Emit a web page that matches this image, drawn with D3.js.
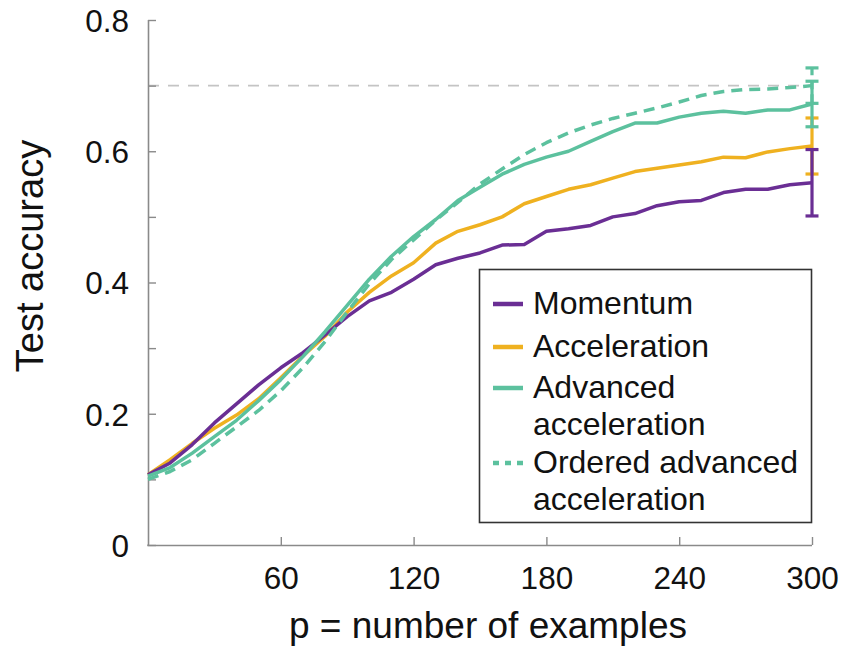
<!DOCTYPE html>
<html>
<head>
<meta charset="utf-8">
<script src="https://cdn.jsdelivr.net/npm/d3@7"></script>
<style>
  html, body { margin: 0; padding: 0; background: #fff; }
  svg { display: block; }
  text { font-family: "Liberation Sans", Arial, Helvetica, sans-serif; fill: #111; }
</style>
</head>
<body>
<svg id="chart" width="844" height="649"></svg>
<script>
// ---- data ----
const xValues = [0,10,20,30,40,50,60,70,80,90,100,110,120,130,140,150,160,170,180,190,200,210,220,230,240,250,260,270,280,290,300];
const momentum = [0.107,0.125,0.153,0.186,0.215,0.244,0.27,0.293,0.32,0.348,0.372,0.385,0.405,0.427,0.437,0.445,0.457,0.458,0.478,0.482,0.487,0.50,0.505,0.517,0.523,0.525,0.537,0.542,0.542,0.549,0.552];
const acceleration = [0.107,0.13,0.155,0.178,0.198,0.223,0.255,0.288,0.318,0.355,0.385,0.41,0.43,0.46,0.478,0.488,0.5,0.52,0.531,0.542,0.549,0.559,0.569,0.574,0.579,0.584,0.591,0.590,0.599,0.604,0.608];
const advanced = [0.105,0.118,0.14,0.165,0.19,0.22,0.252,0.287,0.325,0.365,0.405,0.44,0.47,0.496,0.525,0.545,0.565,0.58,0.591,0.60,0.615,0.63,0.643,0.643,0.652,0.658,0.661,0.658,0.663,0.663,0.672];
const ordered = [0.10,0.112,0.13,0.155,0.18,0.205,0.235,0.27,0.31,0.355,0.398,0.435,0.465,0.495,0.522,0.55,0.573,0.595,0.613,0.628,0.64,0.65,0.658,0.666,0.675,0.685,0.691,0.694,0.695,0.697,0.70];
// error bars at the final point (half-widths)
const errorX = 300;
const errMomentum = 0.0506;
const errAcceleration = 0.0427;
const errAdvanced = 0.0347;
const errOrdered = 0.027;
const referenceLevel = 0.7;
const seriesNames = ["Momentum", "Acceleration", "Advanced acceleration", "Ordered advanced acceleration"];
const legendLines = [["Momentum"], ["Acceleration"], ["Advanced", "acceleration"], ["Ordered advanced", "acceleration"]];
const xTicks = [60,120,180,240,300];
const yTicks = [0,0.1,0.2,0.3,0.4,0.5,0.6,0.7,0.8];
const yTickLabels = ["0","","0.2","","0.4","","0.6","","0.8"];
const xTitle = "p = number of examples";
const yTitle = "Test accuracy";

// ---- layout ----
const colors = ["#6a2e94", "#efb120", "#5cc19e", "#5cc19e"];
const svg = d3.select("#chart");
const mLeft = 148, mRight = 812, mTop = 20, mBottom = 545;
const x = d3.scaleLinear().domain([0, 300]).range([mLeft, mRight]);
const y = d3.scaleLinear().domain([0, 0.8]).range([mBottom, mTop]);

// reference dashed line
svg.append("line")
  .attr("x1", x(0)).attr("x2", x(300))
  .attr("y1", y(referenceLevel)).attr("y2", y(referenceLevel))
  .attr("stroke", "#c4c4c4").attr("stroke-width", 1.6)
  .attr("stroke-dasharray", "11,9");

// axes
const yAxis = d3.axisLeft(y).tickValues(yTicks).tickSize(-8).tickPadding(19)
  .tickFormat((d, i) => yTickLabels[i]);
const gy = svg.append("g").attr("transform", `translate(${mLeft},0)`).call(yAxis);
const xAxis = d3.axisBottom(x).tickValues(xTicks).tickSize(-8).tickPadding(22)
  .tickFormat(d3.format("d"));
const gx = svg.append("g").attr("transform", `translate(0,${mBottom})`).call(xAxis);
[gx, gy].forEach(g => {
  g.select(".domain").attr("stroke", "#8a8a8a").attr("stroke-width", 1.6);
  g.selectAll(".tick line").attr("stroke", "#8a8a8a").attr("stroke-width", 1.4);
  g.selectAll(".tick text").attr("font-size", 31.5).attr("fill", "#111")
    .attr("font-family", '"Liberation Sans", Arial, sans-serif');
});
gx.select(".domain").attr("d", `M${mLeft},-0.5V0.5H${mRight}`);
gy.select(".domain").attr("d", `M0.5,${mBottom}H0.5V${mTop}`);
gy.selectAll(".tick text").attr("dy", "0.36em");
gx.selectAll(".tick text").attr("dy", "0.71em");

// lines
const allSeries = [momentum, acceleration, advanced, ordered];
const errs = [errMomentum, errAcceleration, errAdvanced, errOrdered];
const line = d3.line().x((d, i) => x(xValues[i])).y(d => y(d));
const drawOrder = [1, 0, 2, 3];
drawOrder.forEach(k => {
  svg.append("path")
    .datum(allSeries[k])
    .attr("d", line)
    .attr("fill", "none")
    .attr("stroke", colors[k])
    .attr("stroke-width", 3.5)
    .attr("stroke-linejoin", "round")
    .attr("stroke-dasharray", k === 3 ? "11,7" : null);
});

// error bars
drawOrder.forEach(k => {
  const v = allSeries[k][allSeries[k].length - 1];
  const e = errs[k];
  const g = svg.append("g").attr("stroke", colors[k]).attr("stroke-width", 3.2);
  g.append("line").attr("x1", x(errorX)).attr("x2", x(errorX))
    .attr("y1", y(v - e)).attr("y2", y(v + e))
    .attr("stroke-dasharray", k === 3 ? "9,5" : null);
  [v - e, v + e].forEach(t => {
    g.append("line").attr("x1", x(errorX) - 6.5).attr("x2", x(errorX) + 6.5)
      .attr("y1", y(t)).attr("y2", y(t));
  });
});

// axis titles
svg.append("text").attr("x", 488).attr("y", 638).attr("text-anchor", "middle")
  .attr("font-size", 37).text(xTitle);
svg.append("text").attr("transform", "translate(43,256) rotate(-90)")
  .attr("text-anchor", "middle").attr("font-size", 38).text(yTitle);

// legend
const lg = svg.append("g");
lg.append("rect").attr("x", 479.5).attr("y", 269.5).attr("width", 332).attr("height", 253)
  .attr("fill", "#fff").attr("stroke", "#333").attr("stroke-width", 1.6);
const baselines = [[314], [357], [398, 435], [473, 510]];
legendLines.forEach((ls, k) => {
  const yb = baselines[k][0];
  lg.append("line").attr("x1", 493).attr("x2", 523).attr("y1", yb - 10).attr("y2", yb - 10)
    .attr("stroke", colors[k]).attr("stroke-width", 4.5)
    .attr("stroke-dasharray", k === 3 ? "6,6" : null);
  ls.forEach((s, j) => {
    lg.append("text").attr("x", 533).attr("y", baselines[k][j])
      .attr("font-size", 32).text(s);
  });
});
</script>
</body>
</html>
